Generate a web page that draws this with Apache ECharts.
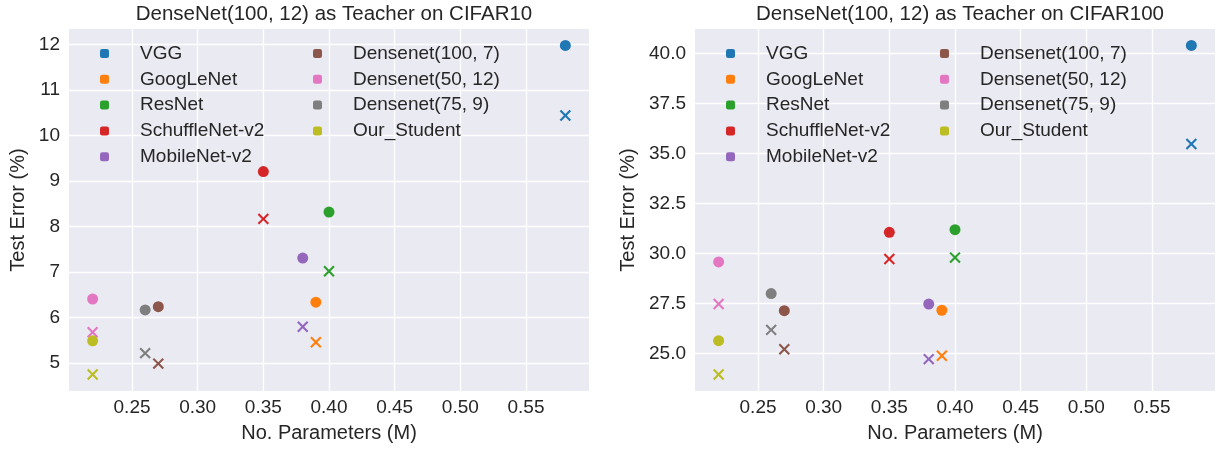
<!DOCTYPE html>
<html>
<head>
<meta charset="utf-8">
<script src="https://cdn.jsdelivr.net/npm/echarts@6/dist/echarts.min.js"></script>
<style>
html,body{margin:0;padding:0;background:#fff;}
#chart{width:1218px;height:450px;}
</style>
</head>
<body>
<div id="chart"></div>
<script>
// ---- data ----
const models = ['VGG', 'GoogLeNet', 'ResNet', 'SchuffleNet-v2', 'MobileNet-v2',
  'Densenet(100, 7)', 'Densenet(50, 12)', 'Densenet(75, 9)', 'Our_Student'];
const params = [0.58, 0.39, 0.40, 0.35, 0.38, 0.27, 0.22, 0.26, 0.22];
const cifar10Circle = [11.98, 6.34, 8.32, 9.21, 7.31, 6.24, 6.41, 6.17, 5.49];
const cifar10Cross  = [10.44, 5.46, 7.02, 8.17, 5.80, 4.99, 5.68, 5.22, 4.75];
const cifar100Circle = [40.39, 27.17, 31.19, 31.06, 27.48, 27.15, 29.58, 28.00, 25.65];
const cifar100Cross  = [35.47, 24.90, 29.80, 29.73, 24.73, 25.22, 27.48, 26.19, 23.96];
const xTicks = [0.25, 0.30, 0.35, 0.40, 0.45, 0.50, 0.55];
const yTicks10 = [5, 6, 7, 8, 9, 10, 11, 12];
const yTicks100 = [25.0, 27.5, 30.0, 32.5, 35.0, 37.5, 40.0];
const titles = ['DenseNet(100, 12) as Teacher on CIFAR10', 'DenseNet(100, 12) as Teacher on CIFAR100'];
const xLabel = 'No. Parameters (M)';
const yLabel = 'Test Error (%)';

// ---- style ----
const colors = ['#1f77b4', '#ff7f0e', '#2ca02c', '#d62728', '#9467bd', '#8c564b', '#e377c2', '#7f7f7f', '#bcbd22'];
const FONT = '"Liberation Sans", Arial, sans-serif';
const TXT = '#262626';
const XSYM = 'path://M4.25,0H5.75V4.25H10V5.75H5.75V10H4.25V5.75H0V4.25H4.25Z';
const TICK_FS = 19, LEG_FS = 19, LAB_FS = 20, TITLE_FS = 20.5;

function pad(arrs) {
  const all = [].concat(...arrs);
  const lo = Math.min(...all), hi = Math.max(...all);
  const m = (hi - lo) * 0.05;
  return [lo - m, hi + m];
}
const xr = pad([params]);
const yr10 = pad([cifar10Circle, cifar10Cross]);
const yr100 = pad([cifar100Circle, cifar100Cross]);

const gridLefts = [69, 695];
const PW = 520, PT = 29, PH = 362;

function xAxis(g) {
  return {
    type: 'value', gridIndex: g, min: xr[0], max: xr[1],
    axisLine: {show: false},
    axisTick: {show: false, customValues: xTicks},
    axisLabel: {customValues: xTicks, formatter: v => v.toFixed(2), color: TXT, fontSize: TICK_FS, fontFamily: FONT, margin: 7},
    splitLine: {show: true, lineStyle: {color: '#ffffff', width: 1.3}},
    name: xLabel, nameLocation: 'middle', nameGap: 32,
    nameTextStyle: {color: TXT, fontSize: LAB_FS, fontFamily: FONT}
  };
}
function yAxis(g, r, ticks, dec, gap) {
  return {
    type: 'value', gridIndex: g, min: r[0], max: r[1],
    axisLine: {show: false},
    axisTick: {show: false, customValues: ticks},
    axisLabel: {customValues: ticks, formatter: v => v.toFixed(dec), color: TXT, fontSize: TICK_FS, fontFamily: FONT, margin: 9},
    splitLine: {show: true, lineStyle: {color: '#ffffff', width: 1.3}},
    name: yLabel, nameLocation: 'middle', nameGap: gap, nameRotate: 90,
    nameTextStyle: {color: TXT, fontSize: LAB_FS, fontFamily: FONT}
  };
}
function legend(left, items) {
  return {
    orient: 'vertical', left: left, top: 44, padding: 0,
    icon: 'roundRect', itemWidth: 9, itemHeight: 9, itemGap: 6.8,
    selectedMode: false,
    textStyle: {color: TXT, fontSize: LEG_FS, fontFamily: FONT, lineHeight: 19, padding: [0, 0, 0, 26]},
    data: items
  };
}

const series = [];
[[cifar10Circle, cifar10Cross], [cifar100Circle, cifar100Cross]].forEach((pair, g) => {
  models.forEach((m, i) => {
    series.push({
      type: 'scatter', name: m, xAxisIndex: g, yAxisIndex: g,
      color: colors[i],
      itemStyle: {color: colors[i], opacity: 1},
      emphasis: {disabled: true},
      data: [
        {value: [params[i], pair[0][i]], symbol: 'circle', symbolSize: 11},
        {value: [params[i], pair[1][i]], symbol: XSYM, symbolSize: 14, symbolRotate: 45}
      ]
    });
  });
});

const option = {
  animation: false,
  backgroundColor: '#ffffff',
  textStyle: {fontFamily: FONT},
  title: titles.map((t, g) => ({
    text: t, left: gridLefts[g] + PW / 2, top: -1, textAlign: 'center',
    textStyle: {color: TXT, fontSize: TITLE_FS, lineHeight: 21, fontWeight: 'normal', fontFamily: FONT}
  })),
  grid: gridLefts.map(l => ({left: l, top: PT, width: PW, height: PH, show: true, backgroundColor: '#EAEAF2', borderWidth: 0})),
  legend: [
    legend(100, models.slice(0, 5)),
    legend(313, models.slice(5)),
    legend(726, models.slice(0, 5)),
    legend(940, models.slice(5))
  ],
  xAxis: [xAxis(0), xAxis(1)],
  yAxis: [yAxis(0, yr10, yTicks10, 0, 41), yAxis(1, yr100, yTicks100, 1, 57)],
  series: series
};

const chart = echarts.init(document.getElementById('chart'), null, {renderer: 'canvas'});
chart.setOption(option);
</script>
</body>
</html>
